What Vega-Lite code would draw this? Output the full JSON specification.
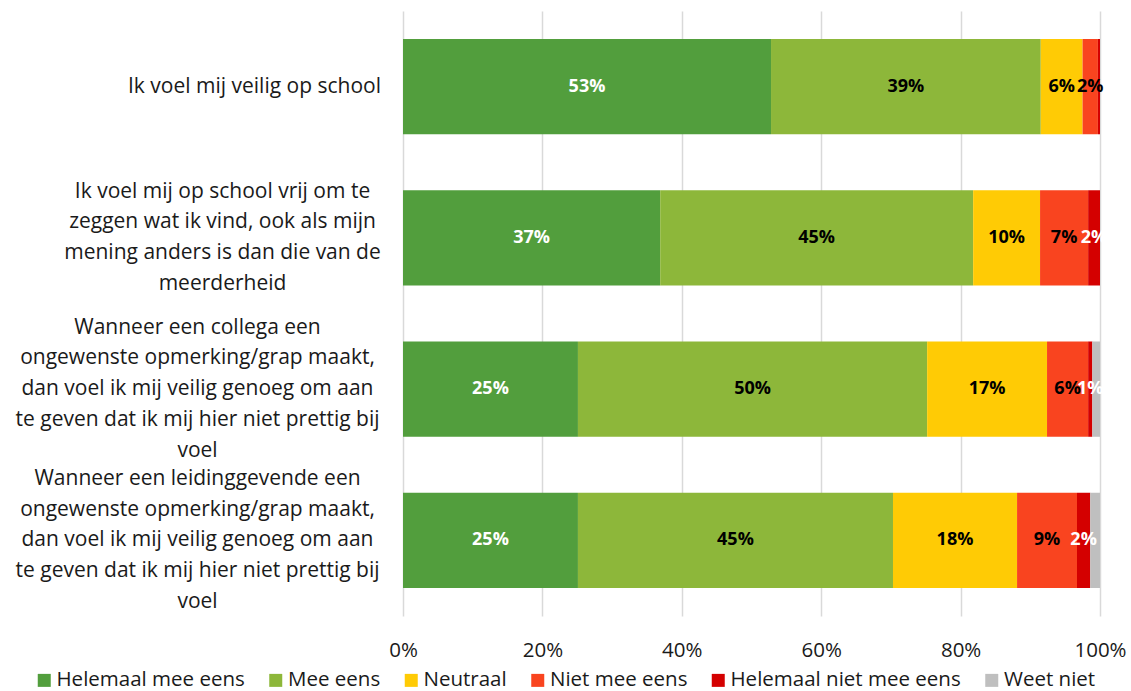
{
  "$schema": "https://vega.github.io/schema/vega-lite/v6.json",
  "width": 697,
  "height": 605,
  "autosize": {"type": "none"},
  "padding": {"left": 403, "top": 11, "right": 31, "bottom": 75},
  "background": "white",
  "config": {
    "view": {"stroke": null},
    "font": "Open Sans",
    "text": {"font": "Open Sans"}
  },
  "data": {
    "values": [
      {"q": "q1", "cat": "Helemaal mee eens", "o": 1, "v": 52.8},
      {"q": "q1", "cat": "Mee eens", "o": 2, "v": 38.7},
      {"q": "q1", "cat": "Neutraal", "o": 3, "v": 6.0},
      {"q": "q1", "cat": "Niet mee eens", "o": 4, "v": 2.2},
      {"q": "q1", "cat": "Helemaal niet mee eens", "o": 5, "v": 0.3},
      {"q": "q1", "cat": "Weet niet", "o": 6, "v": 0.0},
      {"q": "q2", "cat": "Helemaal mee eens", "o": 1, "v": 36.9},
      {"q": "q2", "cat": "Mee eens", "o": 2, "v": 44.9},
      {"q": "q2", "cat": "Neutraal", "o": 3, "v": 9.6},
      {"q": "q2", "cat": "Niet mee eens", "o": 4, "v": 6.9},
      {"q": "q2", "cat": "Helemaal niet mee eens", "o": 5, "v": 1.7},
      {"q": "q2", "cat": "Weet niet", "o": 6, "v": 0.0},
      {"q": "q3", "cat": "Helemaal mee eens", "o": 1, "v": 25.1},
      {"q": "q3", "cat": "Mee eens", "o": 2, "v": 50.1},
      {"q": "q3", "cat": "Neutraal", "o": 3, "v": 17.2},
      {"q": "q3", "cat": "Niet mee eens", "o": 4, "v": 5.9},
      {"q": "q3", "cat": "Helemaal niet mee eens", "o": 5, "v": 0.6},
      {"q": "q3", "cat": "Weet niet", "o": 6, "v": 1.1},
      {"q": "q4", "cat": "Helemaal mee eens", "o": 1, "v": 25.1},
      {"q": "q4", "cat": "Mee eens", "o": 2, "v": 45.2},
      {"q": "q4", "cat": "Neutraal", "o": 3, "v": 17.8},
      {"q": "q4", "cat": "Niet mee eens", "o": 4, "v": 8.6},
      {"q": "q4", "cat": "Helemaal niet mee eens", "o": 5, "v": 1.9},
      {"q": "q4", "cat": "Weet niet", "o": 6, "v": 1.4}
    ]
  },
  "transform": [
    {"stack": "v", "groupby": ["q"], "sort": [{"field": "o", "order": "ascending"}], "as": ["s0", "s1"]}
  ],
  "encoding": {
    "y": {
      "field": "q",
      "type": "nominal",
      "sort": ["q1", "q2", "q3", "q4"],
      "scale": {"paddingInner": 0.37, "paddingOuter": 0.185},
      "axis": {
        "title": null,
        "domain": false,
        "ticks": false,
        "labelFont": "Open Sans",
        "labelFontSize": 21,
        "labelColor": "#1a1a1a",
        "labelAlign": "center",
        "labelBaseline": "middle",
        "labelPadding": {
          "condition": [
            {"test": "datum.value == 'q1'", "value": 149},
            {"test": "datum.value == 'q2'", "value": 181}
          ],
          "value": 206
        },
        "labelOffset": {
          "condition": [
            {"test": "datum.value == 'q1'", "value": 0},
            {"test": "datum.value == 'q2'", "value": -46.2}
          ],
          "value": -61.6
        },
        "labelLineHeight": 30.8,
        "labelLimit": 0,
        "labelExpr": "datum.value == 'q1' ? ['Ik voel mij veilig op school'] : datum.value == 'q2' ? ['Ik voel mij op school vrij om te', 'zeggen wat ik vind, ook als mijn', 'mening anders is dan die van de', 'meerderheid'] : datum.value == 'q3' ? ['Wanneer een collega een', 'ongewenste opmerking/grap maakt,', 'dan voel ik mij veilig genoeg om aan', 'te geven dat ik mij hier niet prettig bij', 'voel'] : ['Wanneer een leidinggevende een', 'ongewenste opmerking/grap maakt,', 'dan voel ik mij veilig genoeg om aan', 'te geven dat ik mij hier niet prettig bij', 'voel']"
      }
    }
  },
  "layer": [
    {
      "mark": {"type": "bar"},
      "encoding": {
        "x": {
          "field": "s0",
          "type": "quantitative",
          "scale": {"domain": [0, 100], "nice": false},
          "axis": {
            "title": null,
            "values": [0, 20, 40, 60, 80, 100],
            "labelExpr": "datum.value + '%'",
            "domain": false,
            "ticks": false,
            "grid": true,
            "gridColor": "#d9d9d9",
            "gridWidth": 1.5,
            "labelFont": "Open Sans",
            "labelFontSize": 20.5,
            "labelColor": "#1a1a1a",
            "labelPadding": 24,
            "labelFlush": false
          }
        },
        "x2": {"field": "s1"},
        "color": {
          "field": "cat",
          "type": "nominal",
          "sort": ["Helemaal mee eens", "Mee eens", "Neutraal", "Niet mee eens", "Helemaal niet mee eens", "Weet niet"],
          "scale": {
            "domain": ["Helemaal mee eens", "Mee eens", "Neutraal", "Niet mee eens", "Helemaal niet mee eens", "Weet niet"],
            "range": ["#529e3d", "#8db73a", "#ffcb05", "#f9441f", "#d40000", "#bfbfbf"]
          },
          "legend": {
            "title": null,
            "orient": "none",
            "direction": "horizontal",
            "legendX": -369,
            "legendY": 659,
            "symbolType": "square",
            "symbolSize": 169,
            "symbolStrokeWidth": 0,
            "labelFont": "Open Sans",
            "labelFontSize": 20.5,
            "labelColor": "#1a1a1a",
            "labelOffset": 2,
            "columnPadding": 20.5,
            "labelLimit": 0
          }
        }
      }
    },
    {
      "transform": [
        {"filter": "datum.cat != 'Weet niet' && datum.v >= 0.5"}
      ],
      "mark": {
        "type": "text",
        "fontWeight": "bold",
        "fontSize": 18,
        "font": "Open Sans",
        "baseline": "middle",
        "align": "center",
        "dx": {"expr": "(scale('x', datum.s1) - scale('x', datum.s0)) / 2"},
        "text": {"expr": "format(datum.v, '.0f') + '%'"}
      },
      "encoding": {
        "x": {"field": "s0", "type": "quantitative"},
        "color": {
          "condition": {"test": "datum.cat == 'Helemaal mee eens' || datum.cat == 'Helemaal niet mee eens'", "value": "white"},
          "value": "black"
        }
      }
    }
  ]
}
